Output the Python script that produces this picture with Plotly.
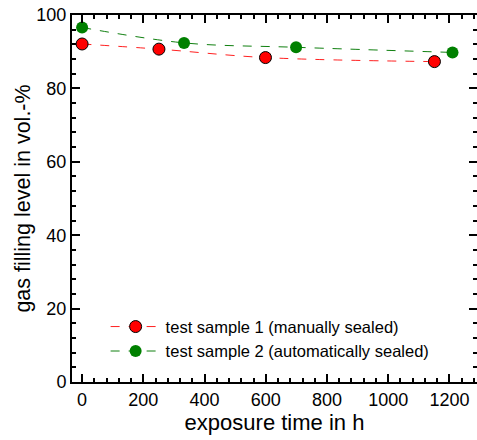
import plotly.graph_objects as go

# data
time_s1 = [0, 251, 599, 1151]
fill_s1 = [92.1, 90.7, 88.4, 87.3]
time_s2 = [0, 333, 699, 1210]
fill_s2 = [96.6, 92.4, 91.2, 89.8]
name_s1 = "test sample 1 (manually sealed)"
name_s2 = "test sample 2 (automatically sealed)"
x_ticks = [0, 200, 400, 600, 800, 1000, 1200]
y_ticks = [0, 20, 40, 60, 80, 100]

FONT = "Liberation Sans, Arial, Helvetica, sans-serif"

fig = go.Figure()
fig.add_trace(go.Scatter(
    x=time_s1, y=fill_s1, name=name_s1, mode="lines+markers",
    line=dict(color="#ff2020", width=1, dash="dash", shape="spline", smoothing=1),
    marker=dict(color="#ff0000", size=12, line=dict(color="black", width=1)),
))
fig.add_trace(go.Scatter(
    x=time_s2, y=fill_s2, name=name_s2, mode="lines+markers",
    line=dict(color="#108010", width=1, dash="dash", shape="spline", smoothing=1),
    marker=dict(color="#008000", size=12, line=dict(color="#006000", width=0)),
))

axis_common = dict(
    showline=True, linecolor="black", linewidth=2, mirror="allticks",
    ticks="inside", ticklen=8, tickwidth=1.5, tickcolor="black",
    showgrid=False, zeroline=False, ticklabeloverflow="allow",
    tickfont=dict(family=FONT, size=18, color="black"),
)

fig.update_xaxes(
    range=[-33, 1290], tickvals=x_ticks,
    minor=dict(dtick=40, tick0=0, ticks="inside", ticklen=4, tickwidth=1.5, tickcolor="black"),
    title=dict(text="exposure time in h", font=dict(family=FONT, size=22, color="black"), standoff=4),
    **axis_common,
)
fig.update_yaxes(
    range=[0, 100], tickvals=y_ticks,
    minor=dict(dtick=4, tick0=0, ticks="inside", ticklen=4, tickwidth=1.5, tickcolor="black"),
    title=dict(text="gas filling level in vol.-%", font=dict(family=FONT, size=21.5, color="black"), standoff=0),
    **axis_common,
)

fig.update_layout(
    width=477, height=440,
    margin=dict(l=72, r=0, t=15, b=57.5, autoexpand=False),
    plot_bgcolor="white", paper_bgcolor="white",
    font=dict(family=FONT, color="black"),
    legend=dict(
        x=0.083, y=0.198, xanchor="left", yanchor="top",
        bgcolor="rgba(0,0,0,0)", borderwidth=0,
        font=dict(family=FONT, size=16.5, color="black"),
        itemwidth=50, tracegroupgap=0,
    ),
)

fig.write_html("out.html", config={"displayModeBar": False},
               post_script="document.body.style.margin='0';")
